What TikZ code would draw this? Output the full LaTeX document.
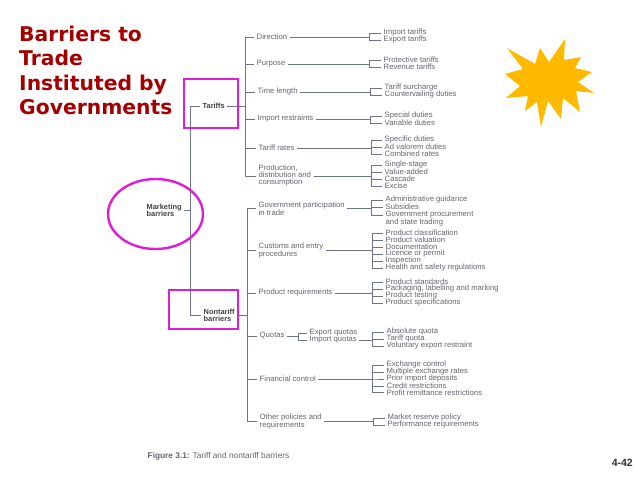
\documentclass[tikz,border=0pt]{standalone}
\usepackage{xcolor}
\usepackage{fontspec}
\setmainfont{Liberation Sans}
\newfontfamily\titlefont{DejaVu Sans}
\usetikzlibrary{shapes.geometric, positioning}
\definecolor{primary}{RGB}{165,0,0}
\definecolor{secondary}{RGB}{222,30,212}
\definecolor{labeltext}{RGB}{100,100,110}
\definecolor{linecol}{RGB}{112,116,138}
\definecolor{starcol}{RGB}{255,186,0}
\newcommand{\fan}[3]{\foreach \kid in {#3}{\draw[conn] (#1.east) -- (#1.east -| #2,0) |- (\kid.west);}}

\begin{document}
\begin{tikzpicture}[
  x=1pt, y=-1pt,
  lbl/.style={inner sep=2.5pt, anchor=west, align=left, text=labeltext, font=\fontsize{7.7}{7}\selectfont},
  head/.style={lbl, text=black!75, font=\fontsize{7.4}{7}\selectfont\bfseries},
  conn/.style={draw=linecol, line width=0.7pt},
  hilite/.style={draw=secondary, line width=2.4pt},
  title/.style={anchor=north west, inner sep=0pt, align=left, text=primary, font=\titlefont\fontsize{20.3}{24.5}\selectfont\bfseries}
]
  \useasboundingbox (0,0) rectangle (638,479);
  \node[title] (title) at (19,25.5) {Barriers to\\Trade\\Instituted by\\Governments};
  \node[anchor=east, inner sep=0pt, text=black!80, font=\fontsize{10.5}{10}\selectfont\bfseries] (pageno) at (633,463) {4-42};
  \node[lbl, font=\fontsize{8.3}{8}\selectfont] (caption) at (145,456) {\textbf{Figure 3.1:} Tariff and nontariff barriers};

  % root and the two branches
  \node[head] (market) at (144,210.5) {Marketing\\barriers};
  \node[head] (tariffs) at (200,106) {Tariffs};
  \node[head] (nontariff) at (201,315.5) {Nontariff\\barriers};

  % middle column
  \node[lbl] (direction) at (254,37) {Direction};
  \node[lbl] (purpose) at (254,64) {Purpose};
  \node[lbl] (timelen) at (255,92) {Time length};
  \node[lbl] (imprest) at (255,119) {Import restraints};
  \node[lbl] (rates) at (256,148) {Tariff rates};
  \node[lbl] (prod) at (256,176) {Production,\\distribution and\\consumption};
  \node[lbl] (govpart) at (256,208.5) {Government participation\\in trade};
  \node[lbl] (customs) at (256,250.5) {Customs and entry\\procedures};
  \node[lbl] (prodreq) at (256,293) {Product requirements};
  \node[lbl] (quotas) at (257,336) {Quotas};
  \node[lbl] (fincon) at (257,379) {Financial control};
  \node[lbl] (other) at (257,421.5) {Other policies and\\requirements};
  \node[lbl] (expq) at (307,333) {Export quotas};
  \node[lbl] (impq) at (307,340) {Import quotas};

  % right column
  \node[lbl] (a1) at (381,33) {Import tariffs};
  \node[lbl] (a2) at (381,40) {Export tariffs};
  \node[lbl] (b1) at (381,60) {Protective tariffs};
  \node[lbl] (b2) at (381,67) {Revenue tariffs};
  \node[lbl] (c1) at (382,88) {Tariff surcharge};
  \node[lbl] (c2) at (382,95) {Countervailing duties};
  \node[lbl] (d1) at (382,116) {Special duties};
  \node[lbl] (d2) at (382,123) {Variable duties};
  \node[lbl] (e1) at (382,140) {Specific duties};
  \node[lbl] (e2) at (382,147) {Ad valorem duties};
  \node[lbl] (e3) at (382,154) {Combined rates};
  \node[lbl] (f1) at (382,165) {Single-stage};
  \node[lbl] (f2) at (382,172) {Value-added};
  \node[lbl] (f3) at (382,179) {Cascade};
  \node[lbl] (f4) at (382,186) {Excise};
  \node[lbl] (g1) at (383,200) {Administrative guidance};
  \node[lbl] (g2) at (383,207) {Subsidies};
  \node[lbl] (g3) at (383,219) {Government procurement\\and state trading};
  \node[lbl] (h1) at (383,233) {Product classification};
  \node[lbl] (h2) at (383,240) {Product valuation};
  \node[lbl] (h3) at (383,247) {Documentation};
  \node[lbl] (h4) at (383,254) {Licence or permit};
  \node[lbl] (h5) at (383,261) {Inspection};
  \node[lbl] (h6) at (383,268) {Health and safety regulations};
  \node[lbl] (i1) at (383,282) {Product standards};
  \node[lbl] (i2) at (383,289) {Packaging, labelling and marking};
  \node[lbl] (i3) at (383,296) {Product testing};
  \node[lbl] (i4) at (383,303) {Product specifications};
  \node[lbl] (j1) at (384,332) {Absolute quota};
  \node[lbl] (j2) at (384,339) {Tariff quota};
  \node[lbl] (j3) at (384,346) {Voluntary export restraint};
  \node[lbl] (k1) at (384,365) {Exchange control};
  \node[lbl] (k2) at (384,372) {Multiple exchange rates};
  \node[lbl] (k3) at (384,379) {Prior import deposits};
  \node[lbl] (k4) at (384,386) {Credit restrictions};
  \node[lbl] (k5) at (384,392.5) {Profit remittance restrictions};
  \node[lbl] (l1) at (385,418) {Market reserve policy};
  \node[lbl] (l2) at (385,425) {Performance requirements};

  % connectors
  \fan{market}{190}{tariffs,nontariff}
  \fan{tariffs}{245}{direction,purpose,timelen,imprest,rates,prod}
  \fan{nontariff}{247}{govpart,customs,prodreq,quotas,fincon,other}
  \fan{direction}{369}{a1,a2}
  \fan{purpose}{369}{b1,b2}
  \fan{timelen}{370}{c1,c2}
  \fan{imprest}{370}{d1,d2}
  \fan{rates}{371}{e1,e2,e3}
  \fan{prod}{371}{f1,f2,f3,f4}
  \fan{govpart}{371}{g1,g2}
  \draw[conn] (govpart.east) -- (govpart.east -| 371,0) |- ([yshift=3.5pt]g3.west);
  \fan{customs}{372}{h1,h2,h3,h4,h5,h6}
  \fan{prodreq}{372}{i1,i2,i3,i4}
  \fan{quotas}{298}{expq,impq}
  \fan{impq}{372}{j1,j2,j3}
  \fan{fincon}{372}{k1,k2,k3,k4,k5}
  \fan{other}{373}{l1,l2}

  % magenta marks
  \node[hilite, minimum width=54pt, minimum height=49pt] (tariffsbox) at (211,103.5) {};
  \node[hilite, minimum width=69pt, minimum height=39pt] (nontariffbox) at (203.5,309.5) {};
  \node[hilite, ellipse, minimum width=95pt, minimum height=70pt] (marketring) at (155.5,214) {};

  \fill[starcol] (507,48) -- (535,64) -- (540,48) -- (549,62) -- (565,39) -- (564,60) -- (581,57) -- (575,68)
    -- (592,72) -- (578,82) -- (594,93) -- (576,91) -- (580,112) -- (563,98) -- (561,119) -- (548,101)
    -- (541,127) -- (537,102) -- (525,111) -- (528,96) -- (506,98) -- (520,86) -- (505,74) -- (523,69) -- cycle;
\end{tikzpicture}
\end{document}
